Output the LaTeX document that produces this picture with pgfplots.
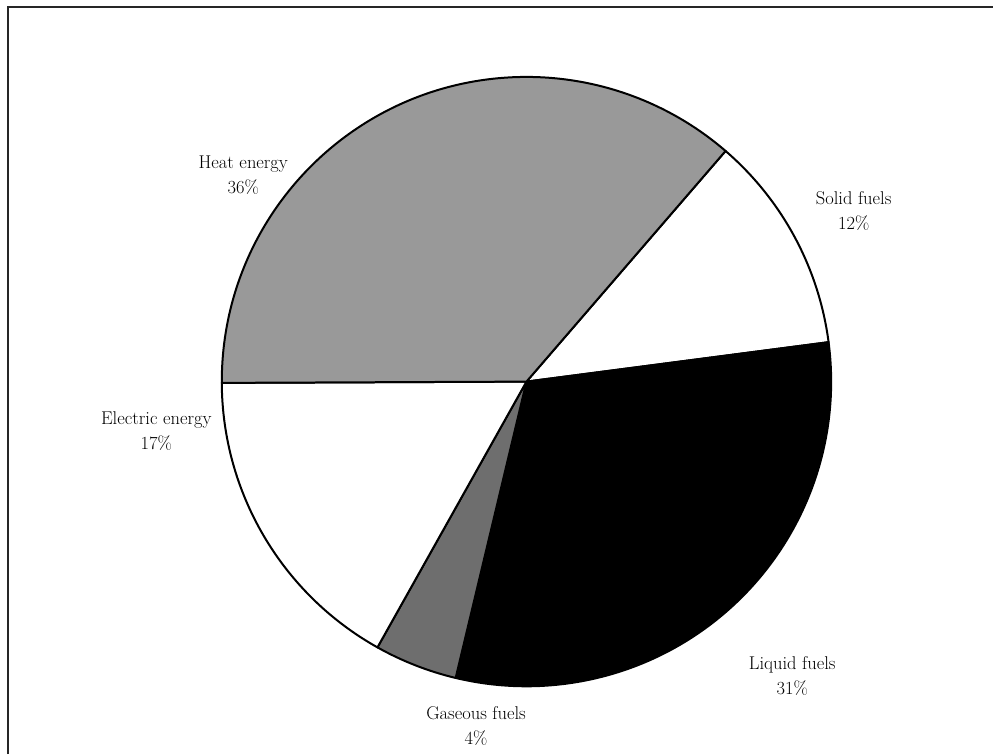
\documentclass[border=0pt]{standalone}
\usepackage{fontspec}
\usepackage{pgfplots}
\pgfplotsset{compat=1.18}
\definecolor{heatgray}{RGB}{153,153,153}
\definecolor{gasgray}{RGB}{110,110,110}
\begin{document}
\begin{tikzpicture}
\begin{axis}[hide axis, scale only axis, width=994pt, height=755pt,
  xmin=0, xmax=994, ymin=0, ymax=755, clip=false]
\pgfplotsextra{
  \def\cx{527}\def\cy{373}\def\r{305}
  \gdef\acur{49.2}
  % value (percent) / fill colour
  \foreach \v/\c in {11.6/white, 30.8/black, 4.4/gasgray, 16.8/white, 36.4/heatgray}{
    \pgfmathsetmacro\bnext{\acur-3.6*\v}
    \pgfmathsetmacro\sx{\cx+\r*cos(\acur)}
    \pgfmathsetmacro\sy{\cy+\r*sin(\acur)}
    \filldraw[fill=\c, draw=black, line width=2pt, line join=round]
      (axis cs:\cx,\cy) -- (axis cs:\sx,\sy)
      arc[start angle=\acur, end angle=\bnext, radius=305pt] -- cycle;
    \global\let\acur\bnext
  }
  \draw[line width=2pt, black!85] (axis cs:8,0) -- (axis cs:8,748) -- (axis cs:994,748);
  \path (axis cs:0,0) rectangle (axis cs:994,755);
  \tikzset{lab/.style={align=center, font=\fontsize{18.5}{25}\selectfont, inner sep=0pt}}
  \node[lab] at (axis cs:243.5,580) {Heat energy\\36\%};
  \node[lab] at (axis cs:854.5,544) {Solid fuels\\12\%};
  \node[lab] at (axis cs:793,78) {Liquid fuels\\31\%};
  \node[lab] at (axis cs:476.5,28) {Gaseous fuels\\4\%};
  \node[lab] at (axis cs:156.5,323) {Electric energy\\17\%};
}
\end{axis}
\end{tikzpicture}
\end{document}
